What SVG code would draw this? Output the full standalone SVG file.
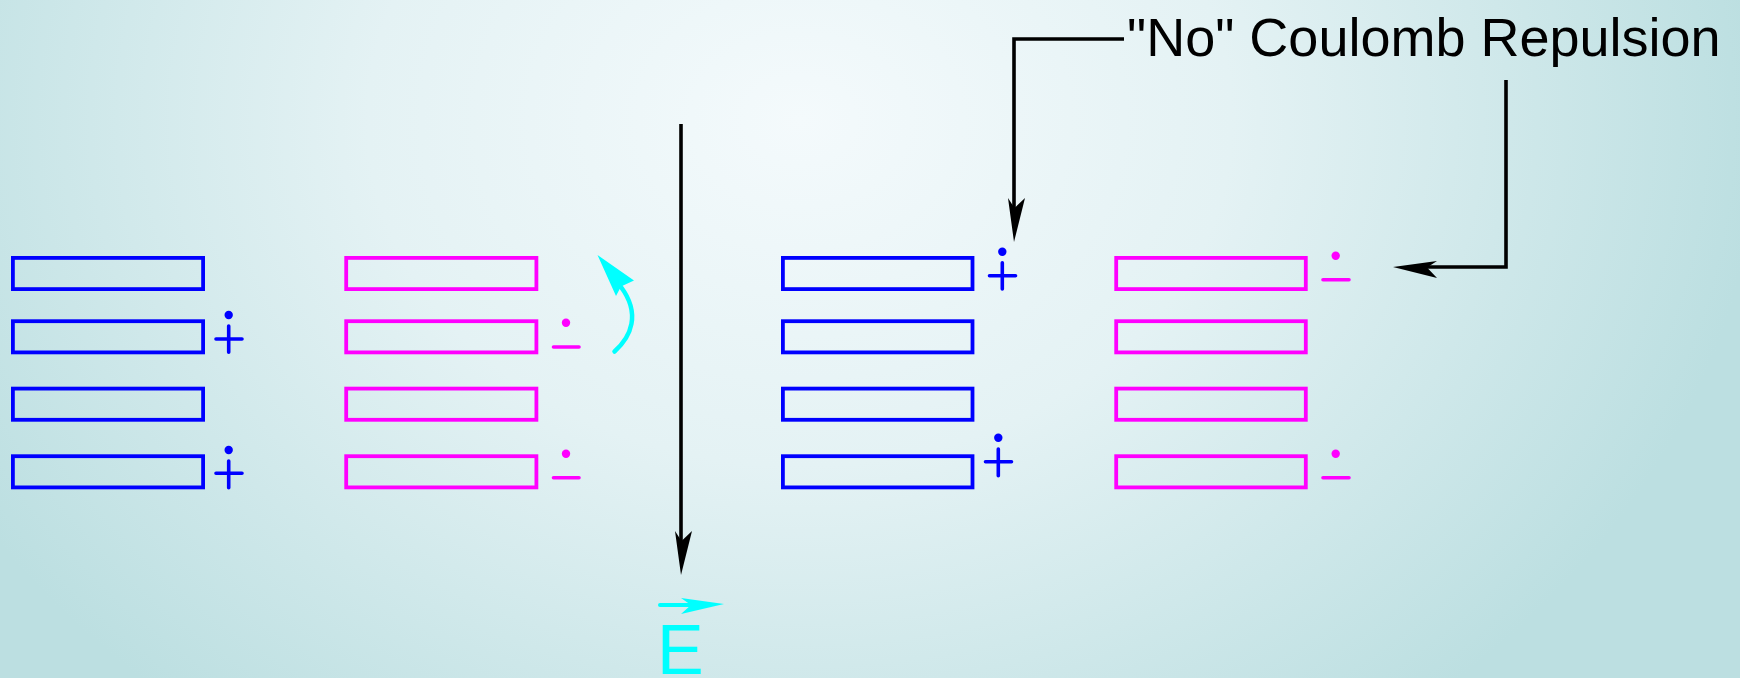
<svg xmlns="http://www.w3.org/2000/svg" width="1740" height="678" viewBox="0 0 1740 678">
  <defs>
    <radialGradient id="bg" gradientUnits="userSpaceOnUse" cx="800" cy="120" r="960" gradientTransform="translate(800 120) scale(1 0.8) translate(-800 -120)">
      <stop offset="0" stop-color="#f4fafc"/>
      <stop offset="0.45" stop-color="#e4f2f4"/>
      <stop offset="1" stop-color="#bcdfe1"/>
    </radialGradient>
    <marker id="ahk" markerUnits="userSpaceOnUse" orient="auto" overflow="visible" markerWidth="1" markerHeight="1" refX="0" refY="0">
      <path d="M34,0 L-10,6 L0,-0.5 L-10,-11 Z" fill="#000"/>
    </marker>
    <marker id="ahc" markerUnits="userSpaceOnUse" orient="auto" overflow="visible" markerWidth="1" markerHeight="1" refX="0" refY="0">
      <path d="M33,-1 L-10,9 L0,0 L-10,-7 Z" fill="#00ffff"/>
    </marker>
  </defs>
  <style>
    .b { fill: none; stroke: #0000ff; stroke-width: 3.8; }
    .m { fill: none; stroke: #ff00ff; stroke-width: 3.8; }
    .bs { stroke: #0000ff; stroke-width: 3.6; stroke-linecap: round; fill: none; }
    .ms { stroke: #ff00ff; stroke-width: 3.6; stroke-linecap: round; fill: none; }
    .bd { fill: #0000ff; }
    .md { fill: #ff00ff; }
    .k { fill: none; stroke: #000; stroke-width: 3.6; }
    .lbl { font-family: "Liberation Sans", Arial, sans-serif; }
  </style>
  <rect x="0" y="0" width="1740" height="678" fill="url(#bg)"/>

  <g id="left-blue">
    <rect class="b" x="12.9" y="257.9" width="190.2" height="31.2"/>
    <rect class="b" x="12.9" y="321.2" width="190.2" height="31.2"/>
    <rect class="b" x="12.9" y="388.6" width="190.2" height="31.2"/>
    <rect class="b" x="12.9" y="456.2" width="190.2" height="31.2"/>
  </g>
  <g id="left-blue-charges">
    <circle class="bd" cx="228.7" cy="315" r="4.2"/>
    <path class="bs" d="M216,339 H242 M228.7,326 V352.3"/>
    <circle class="bd" cx="228.7" cy="450" r="4.2"/>
    <path class="bs" d="M216,473.3 H242 M228.7,461 V487.7"/>
  </g>

  <g id="left-pink">
    <rect class="m" x="346.2" y="257.9" width="190.2" height="31.2"/>
    <rect class="m" x="346.2" y="321.2" width="190.2" height="31.2"/>
    <rect class="m" x="346.2" y="388.6" width="190.2" height="31.2"/>
    <rect class="m" x="346.2" y="456.2" width="190.2" height="31.2"/>
  </g>
  <g id="left-pink-charges">
    <circle class="md" cx="566" cy="322.7" r="4.2"/>
    <path class="ms" d="M553.5,347 H579"/>
    <circle class="md" cx="566" cy="453.7" r="4.2"/>
    <path class="ms" d="M553.5,477.7 H579"/>
  </g>

  <g id="right-blue">
    <rect class="b" x="782.9" y="257.9" width="189.6" height="31.2"/>
    <rect class="b" x="782.9" y="321.2" width="189.6" height="31.2"/>
    <rect class="b" x="782.9" y="388.6" width="189.6" height="31.2"/>
    <rect class="b" x="782.9" y="456.2" width="189.6" height="31.2"/>
  </g>
  <g id="right-blue-charges">
    <circle class="bd" cx="1002.3" cy="251.7" r="4.2"/>
    <path class="bs" d="M989.5,275.7 H1015.5 M1002.3,262.7 V289"/>
    <circle class="bd" cx="998.3" cy="437.7" r="4.2"/>
    <path class="bs" d="M985.5,461.7 H1011.5 M998.3,449 V475.7"/>
  </g>

  <g id="right-pink">
    <rect class="m" x="1116.2" y="257.9" width="189.6" height="31.2"/>
    <rect class="m" x="1116.2" y="321.2" width="189.6" height="31.2"/>
    <rect class="m" x="1116.2" y="388.6" width="189.6" height="31.2"/>
    <rect class="m" x="1116.2" y="456.2" width="189.6" height="31.2"/>
  </g>
  <g id="right-pink-charges">
    <circle class="md" cx="1335.7" cy="255.7" r="4.2"/>
    <path class="ms" d="M1323,279.7 H1349"/>
    <circle class="md" cx="1335.7" cy="453.7" r="4.2"/>
    <path class="ms" d="M1323,477.7 H1349"/>
  </g>

  <g id="rotation-arrow">
    <path d="M614.5,351.5 C631,337 641,314 621,287" fill="none" stroke="#00ffff" stroke-width="4.5" stroke-linecap="round"/>
    <polygon points="597.5,255 634,280.5 621,286.5 616,296" fill="#00ffff"/>
  </g>

  <g id="field-label">
    <text class="lbl" x="657" y="674" font-size="70" fill="#00ffff">E</text>
    <path d="M660,605 H691" fill="none" stroke="#00ffff" stroke-width="4" stroke-linecap="round" marker-end="url(#ahc)"/>
  </g>

  <g id="coulomb-label">
    <text class="lbl" x="1127" y="56" font-size="54" fill="#000">"No" Coulomb Repulsion</text>
  </g>

  <g id="connectors">
    <path class="k" d="M681,124 V541" marker-end="url(#ahk)"/>
    <path class="k" d="M1124,39 H1014 V208" marker-end="url(#ahk)"/>
    <path class="k" d="M1506,80 V267 H1427" marker-end="url(#ahk)"/>
  </g>
</svg>
